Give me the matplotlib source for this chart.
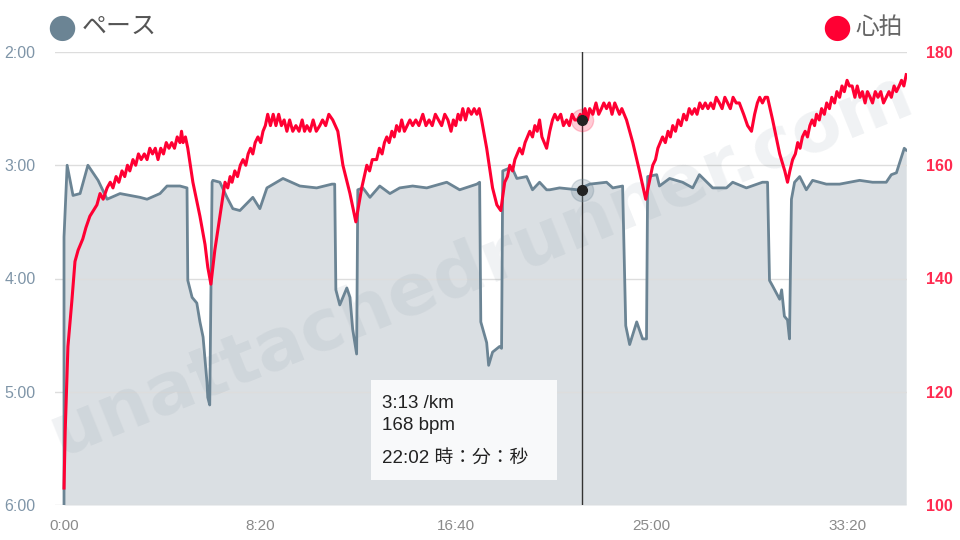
import matplotlib.pyplot as plt
from matplotlib.ticker import FuncFormatter
from matplotlib.patches import FancyBboxPatch

plt.rcParams['font.family'] = ['Liberation Sans', 'Noto Sans CJK JP', 'DejaVu Sans']

# pace (sec per km) against elapsed time (sec)
pace_t = [0, 0, 8, 23, 41, 61, 87, 110, 143, 194, 212, 245, 263, 296, 314,
          316, 327, 339, 347, 355, 365, 367, 372,
          378, 380, 398, 416, 431, 449, 482, 500, 518, 559, 602, 645, 684, 691,
          694, 704, 722, 730, 737, 747,
          750, 763, 781, 806, 832, 857, 890, 926, 977, 1010, 1054, 1061,
          1064, 1079, 1084, 1094, 1112, 1117,
          1120, 1143, 1156, 1181, 1196, 1214, 1232, 1240, 1265, 1311, 1342, 1385, 1401, 1426,
          1434, 1444, 1462, 1477, 1487,
          1490, 1513, 1520, 1546, 1579, 1605, 1622, 1656, 1691, 1707, 1742, 1783, 1796,
          1801, 1809, 1827, 1832, 1839, 1847, 1852,
          1857, 1865, 1878, 1895, 1911, 1946, 1980, 2031, 2064, 2099, 2112, 2125, 2145, 2150]
pace_v = [360, 218, 180, 196, 195, 180, 188, 198, 195, 197, 198, 195, 191, 191, 192,
          241, 250, 253, 263, 271, 295, 303, 307,
          189, 188, 189, 197, 203, 204, 197, 203, 192, 187, 191, 192, 190, 190,
          246, 254, 245, 250, 267, 280,
          193, 192, 197, 191, 195, 192, 191, 192, 189, 193, 190, 189,
          263, 274, 286, 279, 276, 277,
          183, 181, 187, 186, 193, 189, 193, 193, 192, 193, 190, 189, 192, 191,
          265, 275, 263, 272, 272,
          186, 185, 191, 187, 189, 192, 185, 192, 192, 189, 192, 189, 189,
          241, 244, 251, 246, 260, 262, 272,
          198, 189, 186, 193, 188, 190, 190, 188, 189, 189, 185, 184, 171, 172]

# heart rate (bpm) against elapsed time (sec)
hr_t = [0, 3, 10, 20, 28, 36, 48, 56, 66, 75, 84, 92, 100, 110, 118, 125, 133, 140, 148, 155,
        162, 168, 176, 183, 190, 197, 205, 212, 219, 226, 233, 240, 247, 254, 261, 268, 275, 282,
        289, 296, 300, 304, 310, 316,
        329, 347, 360, 367, 375, 385, 398, 411, 418, 424, 429, 436, 443, 450, 457, 464, 470, 476,
        482, 488, 495, 502, 508, 514, 520, 527, 534, 541, 548, 555, 562, 569, 576, 584, 592, 600,
        608, 614, 620, 628, 636, 644, 653, 660, 668, 676, 686,
        699, 712, 730, 745, 760, 773, 780, 787, 798, 805, 812, 818, 824, 830, 837, 843, 849, 856,
        862, 869, 876, 883, 890, 898, 906, 916, 924, 932, 940, 948, 956, 964, 972, 980, 988, 994,
        1000, 1006, 1012, 1018, 1025, 1032, 1040, 1047, 1054, 1060, 1066,
        1079, 1094, 1105, 1115, 1125, 1132, 1138, 1145, 1151, 1157, 1163, 1170, 1177, 1183, 1189,
        1196, 1202, 1208, 1214, 1220, 1226, 1232, 1240, 1247, 1253, 1260, 1268, 1275, 1283, 1290,
        1297, 1304, 1311, 1318, 1322, 1330, 1336, 1342, 1350, 1358, 1365, 1372, 1378, 1385, 1392,
        1399, 1406, 1412, 1418, 1424, 1430, 1436,
        1452, 1469, 1485, 1494, 1503, 1510, 1516, 1522, 1528, 1535, 1542, 1548, 1554, 1561, 1568,
        1575, 1582, 1589, 1596, 1603, 1610, 1616, 1623, 1630, 1637, 1644, 1651, 1658, 1665, 1673,
        1680, 1687, 1694, 1701, 1708, 1716, 1724, 1735, 1745, 1755, 1763, 1770, 1776, 1783, 1790,
        1796,
        1809, 1827, 1840, 1847, 1853, 1860, 1867, 1873, 1879, 1885, 1892, 1898, 1904, 1910, 1916,
        1921, 1928, 1934, 1941, 1947, 1954, 1960, 1967, 1973, 1980, 1986, 1992, 1999, 2005, 2012,
        2019, 2025, 2032, 2038, 2045, 2051, 2058, 2064, 2071, 2078, 2085, 2092, 2099, 2106, 2112,
        2119, 2125, 2132, 2138, 2144, 2150]
hr_v = [103, 113, 128, 136, 143, 145, 147, 149, 151, 152, 153, 155, 154, 156, 157, 156, 158, 157, 159, 158,
        160, 159, 161, 160, 162, 161, 162, 161, 163, 162, 163, 161, 163, 162, 164, 163, 164, 163,
        165, 164, 166, 164, 165, 163,
        157, 151, 146, 142, 139, 145, 151, 157, 156, 158, 157, 159, 158, 160, 161, 160, 162, 163,
        162, 164, 165, 164, 166, 167, 169, 167, 169, 167, 169, 167, 168, 166, 168, 166, 167, 166,
        168, 166, 167, 166, 168, 166, 167, 168, 167, 169, 168,
        166, 160, 155, 150, 156, 160, 159, 161, 161, 163, 162, 164, 165, 164, 166, 165, 167, 166,
        168, 166, 167, 168, 167, 168, 167, 169, 167, 168, 167, 169, 168, 167, 169, 168, 166, 168,
        167, 169, 168, 170, 168, 170, 169, 170, 169, 170, 168,
        163, 156, 153, 152, 157, 158, 160, 159, 161, 162, 163, 162, 164, 165, 166,
        165, 167, 166, 168, 165, 164, 163, 166, 168, 169, 168, 169, 167, 168, 167,
        169, 168, 168, 169, 168, 170, 168, 170, 169, 171, 169, 170, 171, 170, 171,
        169, 171, 170, 169, 170, 169, 168,
        164, 159, 154, 157, 160, 161, 163, 164, 165, 164, 166, 165, 167, 166, 168,
        167, 169, 168, 170, 169, 170, 169, 171, 170, 171, 170, 171, 170, 172, 171,
        170, 172, 171, 170, 172, 171, 171, 169, 167, 166, 169, 171, 172, 171, 172,
        172,
        168, 162, 159, 157, 159, 161, 162, 164, 163, 165, 166, 165, 167, 168, 167,
        169, 168, 170, 169, 171, 170, 172, 171, 173, 172, 174, 173, 175, 174, 174,
        172, 174, 172, 173, 171, 173, 172, 171, 173, 172, 173, 171, 172, 173, 172,
        174, 173, 174, 175, 174, 176]

xticks = [0, 500, 1000, 1500, 2000]
pace_ticks = [120, 180, 240, 300, 360]
hr_ticks = [100, 120, 140, 160, 180]
hover_t = 1322
hover_pace = 193
hover_hr = 168

pace_col = '#6b8494'
fill_col = '#dadfe3'
hr_col = '#ff0033'


def mmss(v, pos=None):
    v = int(round(v))
    return '%d:%02d' % (v // 60, v % 60)


fig = plt.figure(figsize=(9.6, 5.4), dpi=100)
ax = fig.add_axes([55 / 960, 35 / 540, 852 / 960, 453 / 540])
ax2 = ax.twinx()

ax.fill_between(pace_t, pace_v, 360, color=fill_col, lw=0, zorder=1)
ax.plot(pace_t, pace_v, color=pace_col, lw=2, zorder=3)
ax2.plot(hr_t, hr_v, color=hr_col, lw=2.2, zorder=3)

ax.set_xlim(-23, 2152)
ax.set_ylim(360, 120)
ax2.set_ylim(100, 180)

ax.set_xticks(xticks)
ax.xaxis.set_major_formatter(FuncFormatter(mmss))
ax.set_yticks(pace_ticks)
ax.yaxis.set_major_formatter(FuncFormatter(mmss))
ax2.set_yticks(hr_ticks)

ax.grid(axis='y', color='#dddddd', lw=1, zorder=0)
for a in (ax, ax2):
    for s in a.spines.values():
        s.set_visible(False)
ax.tick_params(axis='x', length=0, pad=10, labelsize=11, labelcolor='#8a8a8a')
ax.tick_params(axis='y', length=0, pad=14, labelsize=11.5, labelcolor='#7f95a8')
ax2.tick_params(axis='y', length=0, pad=14, labelsize=11.5, labelcolor='#ff2a50')
for lab in ax2.get_yticklabels():
    lab.set_fontweight('bold')

# watermark
ax.text(0.5, 0.53, 'unattachedrunner.com', transform=ax.transAxes, fontsize=52,
        fontweight='bold', color='#7a8a99', alpha=0.11, rotation=22,
        ha='center', va='center', family='DejaVu Sans', zorder=2)

# hover line, markers and tooltip
ax.axvline(hover_t, color='#333333', lw=1, zorder=4)
ax.plot(hover_t, hover_pace, 'o', color='#222222', ms=7, zorder=5)
ax.plot(hover_t, hover_pace, 'o', color=pace_col, ms=16, alpha=0.25, zorder=4)
ax2.plot(hover_t, hover_hr, 'o', color='#222222', ms=7, zorder=5)
ax2.plot(hover_t, hover_hr, 'o', color=hr_col, ms=16, alpha=0.2, zorder=4)

box = FancyBboxPatch((371 / 960, 1 - 480 / 540), 186 / 960, 100 / 540,
                     boxstyle='square,pad=0', transform=fig.transFigure,
                     facecolor='#f8f9fa', edgecolor='none', zorder=10)
fig.patches.append(box)
fig.text(382 / 960, 1 - 403 / 540, '%s /km' % mmss(hover_pace), fontsize=13.5, color='#222222',
         va='center', zorder=11)
fig.text(382 / 960, 1 - 425 / 540, '%d bpm' % hover_hr, fontsize=13.5, color='#222222',
         va='center', zorder=11)
fig.text(382 / 960, 1 - 458 / 540, '%s 時：分：秒' % mmss(hover_t), fontsize=13.5, color='#222222',
         va='center', zorder=11)

# legend
fig.text(62 / 960, 1 - 27 / 540, '●', fontsize=24, color=pace_col, ha='center', va='center',
         family='DejaVu Sans')
fig.text(82 / 960, 1 - 27 / 540, 'ペース', fontsize=18, color='#555555', va='center',
         family='Noto Sans CJK JP')
fig.text(837 / 960, 1 - 27 / 540, '●', fontsize=24, color=hr_col, ha='center', va='center',
         family='DejaVu Sans')
fig.text(855 / 960, 1 - 27 / 540, '心拍', fontsize=17, color='#666666', va='center',
         family='Noto Sans CJK JP')

fig.savefig('out.png', dpi=100)
